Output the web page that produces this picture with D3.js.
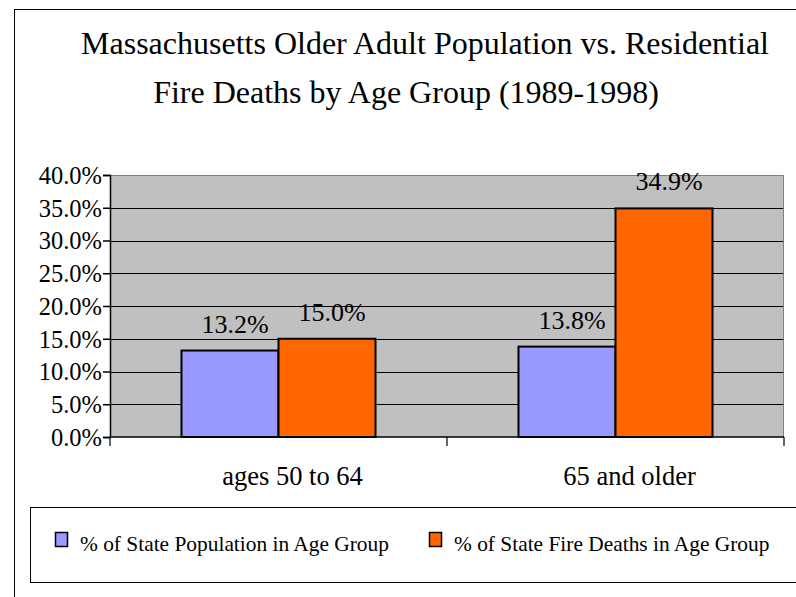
<!DOCTYPE html>
<html lang="en">
<head>
    <meta charset="UTF-8">
    <title>Massachusetts Older Adult Population vs. Residential Fire Deaths</title>
    <script src="https://d3js.org/d3.v7.min.js"></script>
    <style>
        body { margin: 0; background: #fff; }
    </style>
</head>
<body>
    <div id="chart"></div>

    <script>
        // Chart data
        const titleLines = ["Massachusetts Older Adult Population vs. Residential", "Fire Deaths by Age Group (1989-1998)"];
        const categories = ["ages 50 to 64", "65 and older"];
        const seriesNames = ["% of State Population in Age Group", "% of State Fire Deaths in Age Group"];
        const populationPct = [13.2, 13.8];
        const fireDeathPct = [15.0, 34.9];
        const yTicks = [0, 5, 10, 15, 20, 25, 30, 35, 40];

        const colors = ["#9999ff", "#ff6600"];
        const serif = "'Liberation Serif', 'DejaVu Serif', serif";
        const W = 796, H = 597;
        const plot = { left: 110, right: 784, top: 175, bottom: 437 };

        const svg = d3.select("#chart")
            .append("svg")
            .attr("width", W)
            .attr("height", H)
            .attr("font-family", serif);

        // outer frame (runs off the canvas on the right and bottom)
        svg.append("rect")
            .attr("x", 14.5).attr("y", 9.5)
            .attr("width", 900).attr("height", 700)
            .attr("fill", "#fff").attr("stroke", "#000").attr("stroke-width", 1);

        // title
        svg.selectAll(".title")
            .data(titleLines)
            .enter()
            .append("text")
            .attr("class", "title")
            .attr("x", (d, i) => i === 0 ? 425 : 406)
            .attr("y", (d, i) => i === 0 ? 54 : 103)
            .attr("text-anchor", "middle")
            .style("font-family", serif)
            .style("font-size", "32px")
            .text(d => d);

        const x = d3.scaleBand()
            .domain(categories)
            .range([plot.left, plot.right])
            .padding(0);

        const xSub = d3.scaleBand()
            .domain(seriesNames)
            .range([0, x.bandwidth()])
            .paddingInner(0)
            .paddingOuter(0.737);

        const y = d3.scaleLinear()
            .domain([0, 40])
            .range([plot.bottom, plot.top]);

        // plot background
        svg.append("rect")
            .attr("x", plot.left).attr("y", plot.top)
            .attr("width", plot.right - plot.left)
            .attr("height", plot.bottom - plot.top)
            .attr("fill", "#c0c0c0");

        // gridlines
        svg.selectAll(".grid")
            .data(yTicks.filter(t => t > 0 && t < 40))
            .enter()
            .append("line")
            .attr("x1", plot.left).attr("x2", plot.right)
            .attr("y1", d => Math.round(y(d)) + 0.5)
            .attr("y2", d => Math.round(y(d)) + 0.5)
            .attr("stroke", "#000").attr("stroke-width", 1);

        // top / right border of plot area
        svg.append("path")
            .attr("d", `M${plot.left},${plot.top + 0.5}H${plot.right - 0.5}V${plot.bottom}`)
            .attr("fill", "none").attr("stroke", "#808080").attr("stroke-width", 1);

        // bars
        const rows = categories.map((c, i) => ({
            category: c,
            values: [populationPct[i], fireDeathPct[i]]
        }));

        const groups = svg.selectAll(".group")
            .data(rows)
            .enter()
            .append("g")
            .attr("transform", d => `translate(${x(d.category)},0)`);

        groups.selectAll("rect")
            .data(d => d.values.map((v, j) => ({ series: seriesNames[j], value: v, j })))
            .enter()
            .append("rect")
            .attr("x", d => xSub(d.series))
            .attr("y", d => y(d.value))
            .attr("width", xSub.bandwidth())
            .attr("height", d => plot.bottom - y(d.value))
            .attr("fill", d => colors[d.j])
            .attr("stroke", "#000").attr("stroke-width", 2);

        groups.selectAll(".label")
            .data(d => d.values.map((v, j) => ({ series: seriesNames[j], value: v, j })))
            .enter()
            .append("text")
            .attr("class", "label")
            .attr("x", d => xSub(d.series) + xSub.bandwidth() / 2 + 5)
            .attr("y", d => y(d.value) - 18)
            .attr("text-anchor", "middle")
            .style("font-family", serif)
            .style("font-size", "26px")
            .text(d => d.value.toFixed(1) + "%");

        // y axis
        const yAxis = svg.append("g")
            .attr("transform", `translate(${plot.left},0)`)
            .call(d3.axisLeft(y)
                .tickValues(yTicks)
                .tickSize(7)
                .tickPadding(1)
                .tickFormat(d => d.toFixed(1) + "%"));
        yAxis.select(".domain").attr("stroke", "#000").attr("stroke-width", 1.5);
        yAxis.selectAll(".tick line").attr("stroke", "#000").attr("stroke-width", 1.5);
        yAxis.selectAll(".tick text")
            .style("font-family", serif)
            .style("font-size", "24.5px")
            .attr("fill", "#000")
            .attr("dy", "0.34em");

        // x axis line and boundary ticks
        svg.append("line")
            .attr("x1", plot.left).attr("x2", plot.right)
            .attr("y1", plot.bottom).attr("y2", plot.bottom)
            .attr("stroke", "#000").attr("stroke-width", 1.5);

        const bounds = categories.map(c => x(c)).concat([x.range()[1]]);
        svg.selectAll(".xtick")
            .data(bounds)
            .enter()
            .append("line")
            .attr("x1", d => d).attr("x2", d => d)
            .attr("y1", plot.bottom).attr("y2", plot.bottom + 9)
            .attr("stroke", "#000").attr("stroke-width", 1.2);

        svg.selectAll(".xlabel")
            .data(categories)
            .enter()
            .append("text")
            .attr("x", d => x(d) + x.bandwidth() / 2 + 14)
            .attr("y", 485)
            .attr("text-anchor", "middle")
            .style("font-family", serif)
            .style("font-size", "26.5px")
            .text(d => d);

        // legend
        svg.append("rect")
            .attr("x", 30.5).attr("y", 507.5)
            .attr("width", 900).attr("height", 75)
            .attr("fill", "#fff").attr("stroke", "#000").attr("stroke-width", 1);

        const legendX = [55, 429];
        const legend = svg.selectAll(".legend")
            .data(seriesNames)
            .enter()
            .append("g")
            .attr("transform", (d, i) => `translate(${legendX[i]},532)`);

        legend.append("rect")
            .attr("x", 0.5).attr("y", 0.5)
            .attr("width", 12).attr("height", 14)
            .attr("fill", (d, i) => colors[i])
            .attr("stroke", "#000").attr("stroke-width", 1.5);

        legend.append("text")
            .attr("x", 25)
            .attr("y", 19)
            .style("font-family", serif)
            .style("font-size", "21.4px")
            .text(d => d);
    </script>
</body>
</html>
